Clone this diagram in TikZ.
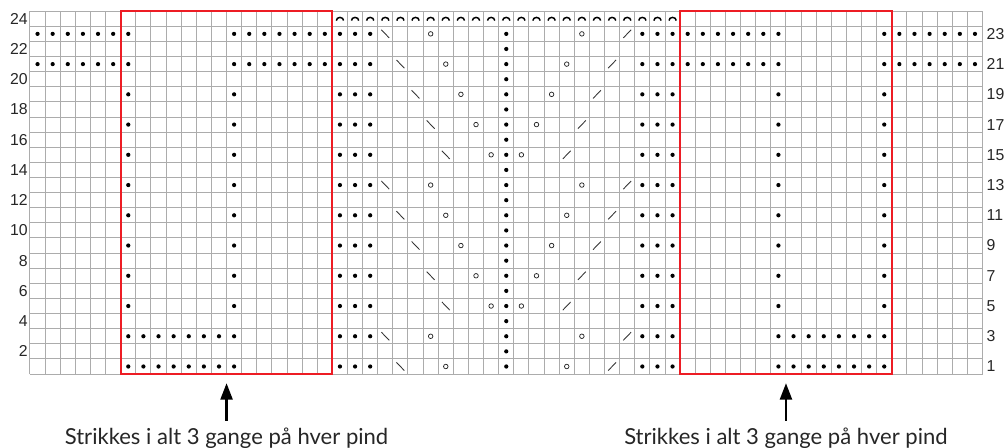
\documentclass[tikz,border=0pt]{standalone}
\usepackage{fontspec}
\setmainfont{Lato}
\newfontfamily\talfont{Liberation Sans}
\usetikzlibrary{arrows.meta}
\definecolor{boxroed}{RGB}{237,28,36}
\definecolor{gitter}{RGB}{172,172,172}

\begin{document}
\begin{tikzpicture}[x=0.4cm,y=0.4cm,
    skraa/.style={black!80, line width=0.65pt},
    hul/.style={draw=black!85, line width=0.55pt},
    bue/.style={black, line width=1.1pt},
    nummer/.style={inner sep=0pt, font=\talfont\fontsize{11.9}{14}\selectfont, text=black!85},
    pil/.style={line width=2pt, -{Triangle[width=9pt,length=12.5pt]}}]
    \useasboundingbox (-1.984,-4.83) rectangle (64.42,24.74);

    % 画格子
    \draw[gitter, line width=0.75pt, step=0.4cm] (0,0) grid (63,24);

    % 行号
    \foreach \r in {2,4,...,24} {
        \node[nummer, anchor=east] (venstre\r) at (-0.13,\r-0.5) {\r};
    }
    \foreach \r in {1,3,...,23} {
        \node[nummer, anchor=west] (hoejre\r) at (63.26,\r-0.5) {\r};
    }

    % 中间一列的点
    \foreach \r in {1,...,23} {
        \fill (31.5,\r-0.5) circle (0.14);
    }

    % 最上一行的弧
    \foreach \c in {20,...,42} {
        \draw[bue] (\c+0.74,23.38) arc (0:180:0.24 and 0.21);
    }

    % 奇数行
    \foreach \i in {0,...,11} {
        \pgfmathsetmacro{\y}{2*\i+0.5}
        \pgfmathsetmacro{\k}{int(mod(11-\i,5))}
        \foreach \c in {20,21,22} {
            \fill (\c+0.5,\y) circle (0.14);
            \fill (62.5-\c,\y) circle (0.14);
        }
        \draw[skraa] (23.24+\k,\y+0.27) -- (23.76+\k,\y-0.27);
        \draw[skraa] (39.24-\k,\y-0.27) -- (39.76-\k,\y+0.27);
        \draw[hul] (26.5+\k,\y) circle (0.15);
        \draw[hul] (36.5-\k,\y) circle (0.15);
        \ifnum\i<2
            \foreach \c in {6,...,13} {
                \fill (\c+0.5,\y) circle (0.14);
                \fill (62.5-\c,\y) circle (0.14);
            }
        \else
            \ifnum\i>9
                \foreach \c in {0,...,6} {
                    \fill (\c+0.5,\y) circle (0.14);
                    \fill (62.5-\c,\y) circle (0.14);
                }
                \foreach \c in {13,...,19} {
                    \fill (\c+0.5,\y) circle (0.14);
                    \fill (62.5-\c,\y) circle (0.14);
                }
            \else
                \foreach \c in {6,13} {
                    \fill (\c+0.5,\y) circle (0.14);
                    \fill (62.5-\c,\y) circle (0.14);
                }
            \fi
        \fi
    }

    % 红框
    \draw[boxroed, line width=1.5pt] (6,0) rectangle (20,24);
    \draw[boxroed, line width=1.5pt] (43,0) rectangle (57,24);

    % 箭头和说明
    \node[inner sep=0pt, anchor=base, font=\fontsize{16.6}{19}\selectfont, text=black!85] (tekst1) at (13,-4.63) {Strikkes i alt 3 gange på hver pind};
    \node[inner sep=0pt, anchor=base, font=\fontsize{16.6}{19}\selectfont, text=black!85] (tekst2) at (50,-4.63) {Strikkes i alt 3 gange på hver pind};
    \coordinate (spids1) at (13,-0.6);
    \coordinate (spids2) at (50,-0.6);
    \draw[pil] ([yshift=0.17cm]tekst1.north) -- (spids1);
    \draw[pil] ([yshift=0.17cm]tekst2.north) -- (spids2);
\end{tikzpicture}
\end{document}
